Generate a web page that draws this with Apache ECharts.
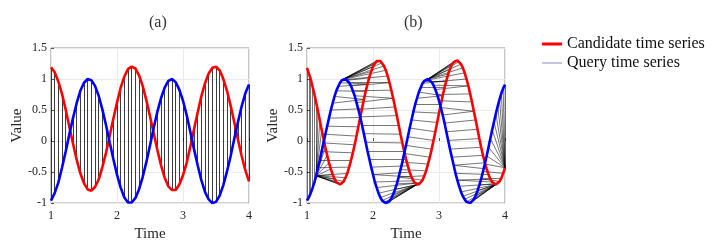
<!DOCTYPE html>
<html>
<head>
<meta charset="utf-8">
<script src="https://cdn.jsdelivr.net/npm/echarts@6/dist/echarts.min.js"></script>
<style>
html,body{margin:0;padding:0;background:#fff;}
#chart{width:724px;height:247px;}
</style>
</head>
<body>
<div id="chart"></div>
<script>
// Time range, tick labels
var timeStart = 1, timeEnd = 4;
var samplesA = 55, samplesB = 109;
var xTicks = ['1', '2', '3', '4'];
var yTicks = ['-1', '-0.5', '0', '0.5', '1', '1.5'];

// Panel (a): query (blue) and candidate (red), 55 samples
var queryA = [-0.96,-0.84,-0.67,-0.43,-0.17,0.11,0.37,0.61,0.81,0.94,1.00,0.98,0.89,0.73,0.51,0.26,-0.02,-0.29,-0.54,-0.75,-0.91,-0.99,-0.99,-0.92,-0.78,-0.58,-0.34,-0.07,0.21,0.47,0.69,0.86,0.97,1.00,0.95,0.83,0.65,0.42,0.15,-0.13,-0.39,-0.63,-0.82,-0.94,-1.00,-0.98,-0.88,-0.71,-0.49,-0.24,0.04,0.31,0.56,0.77,0.91];
var candidateA = [1.19,1.11,0.96,0.76,0.51,0.23,-0.04,-0.30,-0.52,-0.68,-0.78,-0.80,-0.74,-0.62,-0.42,-0.19,0.08,0.36,0.62,0.86,1.04,1.16,1.20,1.17,1.06,0.89,0.66,0.40,0.13,-0.14,-0.39,-0.59,-0.73,-0.79,-0.79,-0.70,-0.55,-0.35,-0.09,0.19,0.46,0.72,0.93,1.09,1.18,1.20,1.14,1.00,0.81,0.57,0.30,0.02,-0.24,-0.47,-0.65];

// Panel (b): query (blue) and candidate (red), 109 samples
var queryB = [-0.96,-0.91,-0.84,-0.76,-0.67,-0.56,-0.43,-0.31,-0.17,-0.03,
  0.11,0.24,0.37,0.50,0.61,0.72,0.81,0.88,0.94,0.98,
  1.00,1.00,0.98,0.94,0.89,0.81,0.73,0.62,0.51,0.39,
  0.26,0.12,-0.02,-0.16,-0.29,-0.42,-0.54,-0.66,-0.75,-0.84,
  -0.91,-0.96,-0.99,-1.00,-0.99,-0.97,-0.92,-0.86,-0.78,-0.69,
  -0.58,-0.46,-0.34,-0.20,-0.07,0.07,0.21,0.34,0.47,0.59,
  0.69,0.79,0.86,0.93,0.97,0.99,1.00,0.99,0.95,0.90,
  0.83,0.75,0.65,0.54,0.42,0.29,0.15,0.01,-0.13,-0.26,
  -0.39,-0.52,-0.63,-0.73,-0.82,-0.89,-0.94,-0.98,-1.00,-1.00,
  -0.98,-0.94,-0.88,-0.80,-0.71,-0.61,-0.49,-0.37,-0.24,-0.10,
  0.04,0.18,0.31,0.44,0.56,0.67,0.77,0.85,0.91];
var candidateB = [1.18,1.09,1.00,0.88,0.76,0.62,0.48,0.33,0.18,0.04,
  -0.10,-0.23,-0.35,-0.45,-0.54,-0.61,-0.66,-0.69,-0.70,-0.69,
  -0.65,-0.59,-0.52,-0.42,-0.31,-0.19,-0.06,0.08,0.23,0.38,
  0.52,0.67,0.80,0.92,1.03,1.12,1.20,1.25,1.29,1.30,
  1.29,1.26,1.21,1.14,1.05,0.94,0.82,0.69,0.55,0.41,
  0.26,0.11,-0.03,-0.16,-0.29,-0.40,-0.50,-0.58,-0.64,-0.68,
  -0.70,-0.70,-0.67,-0.63,-0.56,-0.48,-0.37,-0.26,-0.13,0.01,
  0.15,0.30,0.45,0.59,0.73,0.86,0.97,1.08,1.16,1.23,
  1.27,1.30,1.30,1.28,1.24,1.18,1.10,1.00,0.89,0.76,
  0.63,0.48,0.34,0.19,0.04,-0.10,-0.23,-0.35,-0.45,-0.54,
  -0.61,-0.66,-0.69,-0.70,-0.69,-0.65,-0.60,-0.52,-0.43];

function timeAxis(n) {
  var out = [];
  for (var k = 0; k < n; k++) out.push(timeStart + (timeEnd - timeStart) * k / (n - 1));
  return out;
}
var timesA = timeAxis(samplesA), timesB = timeAxis(samplesB);

function pairs(ts, vals) { return vals.map(function (v, i) { return [ts[i], v]; }); }

// Dynamic time warping alignment between two arrays
function dtwPath(a, b) {
  var n = a.length, m = b.length, D = [];
  for (var i = 0; i < n; i++) {
    D.push([]);
    for (var j = 0; j < m; j++) {
      var c = Math.abs(a[i] - b[j]);
      var best;
      if (i === 0 && j === 0) best = 0;
      else if (i === 0) best = D[0][j - 1];
      else if (j === 0) best = D[i - 1][0];
      else best = Math.min(D[i - 1][j - 1], D[i - 1][j], D[i][j - 1]);
      D[i].push(c + best);
    }
  }
  var path = [], i = n - 1, j = m - 1;
  path.push([i, j]);
  while (i > 0 || j > 0) {
    if (i === 0) j--;
    else if (j === 0) i--;
    else {
      var d = D[i - 1][j - 1], u = D[i - 1][j], l = D[i][j - 1];
      if (d <= u && d <= l) { i--; j--; }
      else if (u <= l) i--;
      else j--;
    }
    path.push([i, j]);
  }
  return path.reverse();
}

var linksA = timesA.map(function (t, i) {
  return { coords: [[t, queryA[i]], [t, candidateA[i]]] };
});
var linksB = dtwPath(candidateB, queryB).map(function (p) {
  return { coords: [[timesB[p[0]], candidateB[p[0]]], [timesB[p[1]], queryB[p[1]]]] };
});

var serif = 'Liberation Serif';

function makeX(idx) {
  return {
    type: 'value', gridIndex: idx, min: 1, max: 4, interval: 1,
    name: 'Time', nameLocation: 'middle', nameGap: 22,
    nameTextStyle: { fontFamily: serif, fontSize: 15, color: '#262626' },
    axisLine: { show: false },
    axisTick: { show: true, inside: true, length: 3, lineStyle: { color: '#555' } },
    axisLabel: { fontFamily: serif, fontSize: 12, color: '#262626', margin: 7,
      formatter: function (v) { return xTicks[Math.round(v) - 1]; } },
    splitLine: { show: true, lineStyle: { color: '#ebebeb', width: 1 } }
  };
}
function makeY(idx) {
  return {
    type: 'value', gridIndex: idx, min: -1, max: 1.5, interval: 0.5,
    name: 'Value', nameLocation: 'middle', nameGap: 20,
    nameTextStyle: { fontFamily: serif, fontSize: 15, color: '#262626' },
    axisLine: { show: false },
    axisTick: { show: true, inside: true, length: 3, lineStyle: { color: '#555' } },
    axisLabel: { fontFamily: serif, fontSize: 12, color: '#262626', margin: 4,
      formatter: function (v) { return yTicks[Math.round((v + 1) * 2)]; } },
    splitLine: { show: true, lineStyle: { color: '#ebebeb', width: 1 } }
  };
}

var option = {
  animation: false,
  backgroundColor: '#fff',
  title: [
    { text: '(a)', left: 144, top: 10, textStyle: { fontFamily: serif, fontSize: 16, fontWeight: 'normal', color: '#333' } },
    { text: '(b)', left: 399, top: 10, textStyle: { fontFamily: serif, fontSize: 16, fontWeight: 'normal', color: '#333' } }
  ],
  legend: [
    { left: 537, top: 31, icon: 'rect', itemWidth: 20, itemHeight: 3, selectedMode: false,
      textStyle: { fontFamily: serif, fontSize: 16, color: '#111' },
      data: [{ name: 'Candidate time series', itemStyle: { color: '#ff0000' } }] },
    { left: 537, top: 50, icon: 'rect', itemWidth: 20, itemHeight: 1.2, selectedMode: false,
      textStyle: { fontFamily: serif, fontSize: 16, color: '#111' },
      data: [{ name: 'Query time series', itemStyle: { color: '#9e9ad8' } }] }
  ],
  grid: [
    { left: 51, top: 48, width: 198, height: 161, show: true, borderColor: '#8c8c8c', borderWidth: 1, backgroundColor: 'transparent' },
    { left: 307, top: 48, width: 198, height: 160, show: true, borderColor: '#8c8c8c', borderWidth: 1, backgroundColor: 'transparent' }
  ],
  xAxis: [makeX(0), makeX(1)],
  yAxis: [makeY(0), makeY(1)],
  series: [
    { type: 'lines', coordinateSystem: 'cartesian2d', xAxisIndex: 0, yAxisIndex: 0, silent: true, z: 2,
      lineStyle: { color: '#000', width: 0.9, opacity: 0.85 }, data: linksA },
    { type: 'lines', coordinateSystem: 'cartesian2d', xAxisIndex: 1, yAxisIndex: 1, silent: true, z: 2,
      lineStyle: { color: '#000', width: 0.6, opacity: 0.9 }, data: linksB },
    { name: 'Candidate time series', type: 'line', xAxisIndex: 0, yAxisIndex: 0, showSymbol: false, z: 5,
      lineStyle: { color: '#ff0000', width: 2.6 }, itemStyle: { color: '#ff0000' }, data: pairs(timesA, candidateA) },
    { name: 'Query time series', type: 'line', xAxisIndex: 0, yAxisIndex: 0, showSymbol: false, z: 5,
      lineStyle: { color: '#0000ff', width: 2.6 }, itemStyle: { color: '#0000ff' }, data: pairs(timesA, queryA) },
    { name: 'Candidate time series', type: 'line', xAxisIndex: 1, yAxisIndex: 1, showSymbol: false, z: 5,
      lineStyle: { color: '#ff0000', width: 2.6 }, itemStyle: { color: '#ff0000' }, data: pairs(timesB, candidateB) },
    { name: 'Query time series', type: 'line', xAxisIndex: 1, yAxisIndex: 1, showSymbol: false, z: 5,
      lineStyle: { color: '#0000ff', width: 2.6 }, itemStyle: { color: '#0000ff' }, data: pairs(timesB, queryB) }
  ]
};

var chart = echarts.init(document.getElementById('chart'), null, { renderer: 'canvas' });
chart.setOption(option);
</script>
</body>
</html>
